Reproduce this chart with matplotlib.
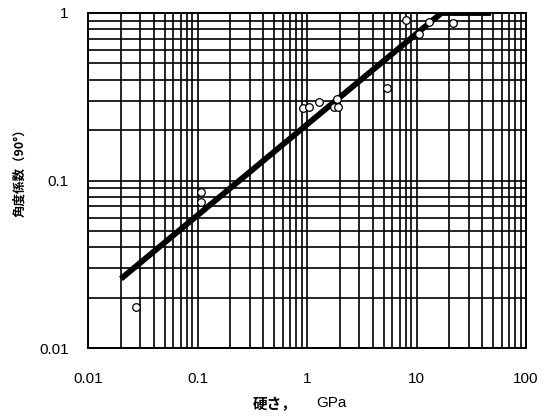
import matplotlib
matplotlib.use("Agg")
import matplotlib.pyplot as plt
from matplotlib.ticker import LogLocator, NullFormatter

plt.rcParams['font.family'] = ['Liberation Sans', 'Noto Sans CJK JP', 'DejaVu Sans']

# data
hard_x = [0.0277, 0.108, 0.108, 0.92, 1.04, 1.30, 1.76, 1.93, 1.88, 5.37, 8.0, 10.6, 13.0, 21.7]
coef_y = [0.0176, 0.0851, 0.0745, 0.272, 0.276, 0.294, 0.276, 0.276, 0.305, 0.359, 0.912, 0.748, 0.88, 0.871]
fit_x = [0.02, 16.9, 48]
fit_y = [0.0259, 1.0, 1.0]
x_ticks = [0.01, 0.1, 1, 10, 100]
x_labels = ["0.01", "0.1", "1", "10", "100"]
y_ticks = [0.01, 0.1, 1]
y_labels = ["0.01", "0.1", "1"]

W, H = 544, 416
fig = plt.figure(figsize=(W / 100, H / 100), dpi=100)
ax = fig.add_axes([88 / W, 1 - 348 / H, (526 - 88) / W, (348 - 13) / H])
ax.set_xscale('log')
ax.set_yscale('log')
ax.set_xlim(0.01, 100)
ax.set_ylim(0.01, 1)

ax.set_xticks(x_ticks)
ax.set_xticklabels(x_labels)
ax.set_yticks(y_ticks)
ax.set_yticklabels(y_labels)
ax.xaxis.set_minor_locator(LogLocator(base=10, subs=range(2, 10), numticks=20))
ax.yaxis.set_minor_locator(LogLocator(base=10, subs=range(2, 10), numticks=20))
ax.xaxis.set_minor_formatter(NullFormatter())
ax.yaxis.set_minor_formatter(NullFormatter())
ax.tick_params(which='both', length=0, labelsize=11)
ax.tick_params(axis='x', pad=17)
ax.tick_params(axis='y', pad=14)
ax.grid(True, which='both', color='black', linewidth=1.2)
for s in ax.spines.values():
    s.set_linewidth(1.4)

ax.plot(fit_x, fit_y, color='black', linewidth=4.2, solid_capstyle='butt', zorder=3)
ax.scatter(hard_x, coef_y, s=30, facecolors='white', edgecolors='black', linewidths=0.9, zorder=4)

# axis titles
fig.text(297 / W, 1 - 404 / H, "硬さ，", ha='right', va='center', fontsize=10.5,
         fontweight='bold', family=['Noto Sans CJK JP'])
fig.text(316 / W, 1 - 403 / H, "GPa", ha='left', va='center', fontsize=11,
         family=['Liberation Sans'])
fig.text(20 / W, 1 - 170 / H, "角度係数（90°）", ha='center', va='center', rotation=90,
         fontsize=9, fontweight='bold', family=['Noto Sans CJK JP', 'DejaVu Sans'])

fig.savefig("out.png", dpi=100)
